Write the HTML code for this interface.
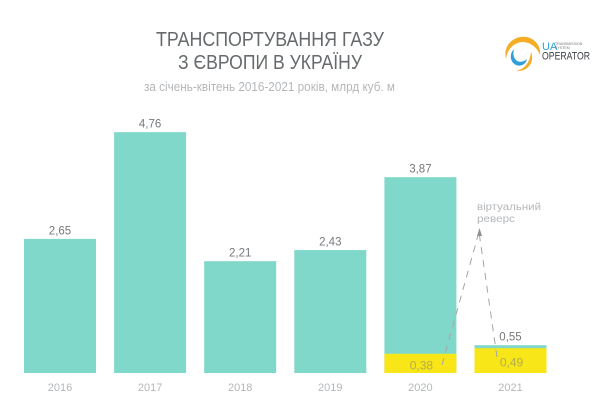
<!DOCTYPE html>
<html lang="uk">
<head>
<meta charset="utf-8">
<title>Транспортування газу з Європи в Україну</title>
<style>
html,body{margin:0;padding:0;background:#fff}
#chart{display:block;width:600px;height:404px;font-family:"Liberation Sans",sans-serif;filter:blur(0.35px)}
</style>
</head>
<body>
<svg id="chart" xmlns="http://www.w3.org/2000/svg" width="600" height="404" viewBox="0 0 600 404">
  <rect width="600" height="404" fill="#ffffff"/>
  <g fill="#666a6c" font-size="20" text-anchor="middle">
    <text x="270" y="46" textLength="228" lengthAdjust="spacingAndGlyphs">ТРАНСПОРТУВАННЯ ГАЗУ</text>
    <text x="270" y="69" textLength="184" lengthAdjust="spacingAndGlyphs">З ЄВРОПИ В УКРАЇНУ</text>
  </g>
  <text x="269.5" y="91" fill="#b4b7ba" font-size="12.5" text-anchor="middle" textLength="251" lengthAdjust="spacingAndGlyphs">за січень-квітень 2016-2021 років, млрд куб. м</text>

  <g>
    <path d="M506 59 C502 44 517 33 530 38 C537 41 541 48 540 55 C537 47 530 42 522 42 C513 43 507 50 506 59 Z" fill="#f5ad25"/>
    <path d="M531 52 C535 62 528 72 516 71 C525 69 530 62 531 52 Z" fill="#f5ad25"/>
    <path d="M514 49 C509 54 510 62 516 65 C521 67 526 64 527 59 C524 62 519 63 516 60 C513 57 513 53 514 49 Z" fill="#2f9fd8"/>
    <text x="542" y="50" font-size="11" fill="#2f9fd8">UA</text>
    <text x="555" y="45" font-size="3.6" fill="#777">TRANSMISSION</text>
    <text x="555" y="49" font-size="3.6" fill="#777">SYSTEM</text>
    <text x="542" y="59.5" font-size="11" fill="#3a3f44" textLength="48" lengthAdjust="spacingAndGlyphs">OPERATOR</text>
  </g>

  <g id="bars"></g>
  <g id="labels"></g>
  <g id="ticks"></g>

  <g>
    <text x="477" y="210" font-size="10.5" fill="#b4b7ba" textLength="64" lengthAdjust="spacingAndGlyphs">віртуальний</text>
    <text x="477" y="222" font-size="10.5" fill="#b4b7ba" textLength="38" lengthAdjust="spacingAndGlyphs">реверс</text>
    <line x1="442" y1="365" x2="479" y2="232" stroke="#a4a6a6" stroke-width="1" stroke-dasharray="7 6"/>
    <line x1="497" y1="357" x2="479" y2="232" stroke="#a4a6a6" stroke-width="1" stroke-dasharray="7 6"/>
    <path d="M479.5 228 L482 236 L477 236 Z" fill="#8f9192"/>
  </g>
</svg>
<script>
const categories = ['2016', '2017', '2018', '2019', '2020', '2021'];
const totalValues = [2.65, 4.76, 2.21, 2.43, 3.87, 0.55];
const reverseValues = [0, 0, 0, 0, 0.38, 0.49];
const totalLabels = ['2,65', '4,76', '2,21', '2,43', '3,87', '0,55'];
const reverseLabels = ['', '', '', '', '0,38', '0,49'];

const NS = 'http://www.w3.org/2000/svg';
const BASELINE = 373;
const UNIT = 50.6;
const BAR_WIDTH = 72;
const yScale = v => BASELINE - v * UNIT;
const xScale = i => 24 + i * 90.1;

function make(tag, attrs, parent, content) {
  const el = document.createElementNS(NS, tag);
  Object.keys(attrs).forEach(k => el.setAttribute(k, attrs[k]));
  if (content) el.textContent = content;
  parent.appendChild(el);
  return el;
}

const barsGroup = document.getElementById('bars');
const labelsGroup = document.getElementById('labels');
const ticksGroup = document.getElementById('ticks');

categories.forEach((cat, i) => {
  const x = xScale(i);
  const cx = x + BAR_WIDTH / 2;
  const top = yScale(totalValues[i]);

  const bar = make('rect', {x: x, y: top, width: BAR_WIDTH, height: BASELINE - top, fill: '#80d8ca'}, barsGroup);
  
  

  const label = make('text', {x: cx, y: top - 4.5, 'text-anchor': 'middle', 'font-size': 11.5, fill: '#74787c'}, labelsGroup, totalLabels[i]);
  
  

  if (reverseValues[i] > 0) {
    const revTop = yScale(reverseValues[i]);
    const rev = make('rect', {x: x, y: revTop, width: BAR_WIDTH, height: BASELINE - revTop, fill: '#f8e619'}, barsGroup);
    
    

    const revLabel = make('text', {x: cx + 1, y: yScale(reverseValues[i] / 2) + 6, 'text-anchor': 'middle', 'font-size': 12, fill: '#b3ad4a'}, labelsGroup, reverseLabels[i]);
    
    
  }

  const tick = make('text', {x: cx, y: 391, 'text-anchor': 'middle', 'font-size': 11, fill: '#b4b7ba'}, ticksGroup, cat);
  
  
});
</script>
</body>
</html>
